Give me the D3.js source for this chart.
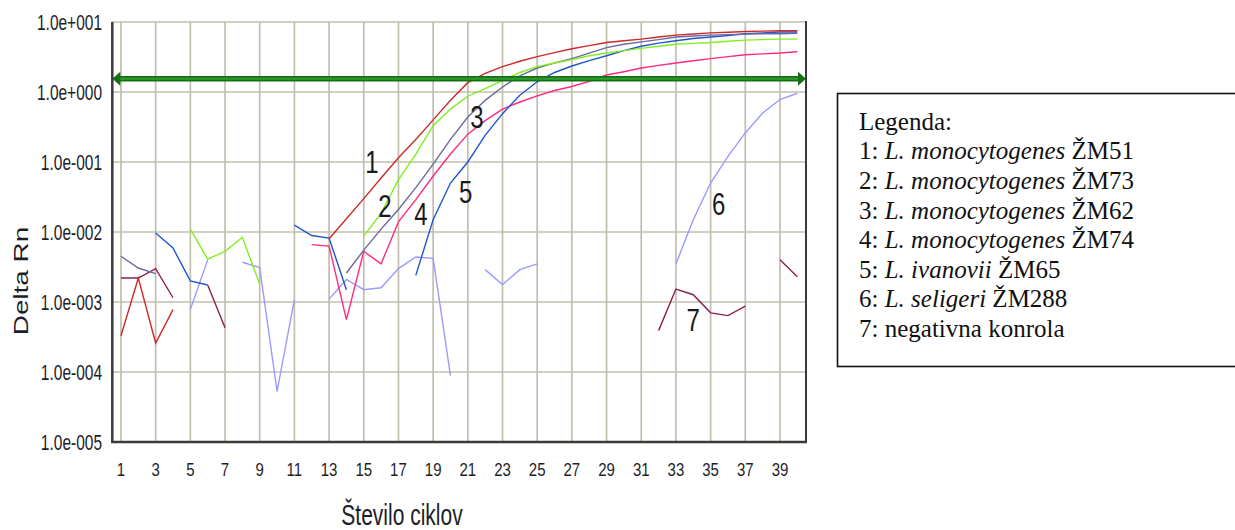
<!DOCTYPE html>
<html>
<head>
<meta charset="utf-8">
<script src="https://cdn.jsdelivr.net/npm/d3@7/dist/d3.min.js"></script>
<style>
  body { margin: 0; background: #fff; }
  svg { display: block; }
</style>
</head>
<body>
<div id="chart"></div>
<script>
// cycle numbers (x categories)
const cycles = [1, 2, 3, 4, 5, 6, 7, 8, 9, 10, 11, 12, 13, 14, 15, 16, 17, 18, 19, 20,
  21, 22, 23, 24, 25, 26, 27, 28, 29, 30, 31, 32, 33, 34, 35, 36, 37, 38, 39, 40];

const xTicks = [1, 3, 5, 7, 9, 11, 13, 15, 17, 19, 21, 23, 25, 27, 29, 31, 33, 35, 37, 39];
const yTicks = [1e-5, 1e-4, 1e-3, 1e-2, 1e-1, 1e0, 1e1];
const yTickLabels = ['1.0e-005', '1.0e-004', '1.0e-003', '1.0e-002', '1.0e-001', '1.0e+000', '1.0e+001'];

const threshold = 1.55;

// Delta Rn per cycle, null = not plotted (<= 0 on log scale)
const zm51 = [3.3e-4, 2.2e-3, 2.6e-4, 7.8e-4, null, null, null, null, null, null,
  null, null, 8.0e-3, 0.0155, 0.030, 0.059, 0.115, 0.21, 0.40, 0.76,
  1.36, 1.85, 2.3, 2.75, 3.2, 3.65, 4.15, 4.6, 5.1, 5.4,
  5.7, 6.1, 6.5, 6.75, 7.0, 7.15, 7.3, 7.4, 7.5, 7.5];

const zm73 = [null, null, null, null, 0.011, 4.1e-3, 5.3e-3, 8.4e-3, 1.8e-3, null,
  null, null, null, null, 8.8e-3, 0.0185, 0.056, 0.13, 0.33, 0.57,
  0.87, 1.12, 1.45, 1.9, 2.3, 2.6, 2.9, 3.3, 3.6, 3.9,
  4.2, 4.5, 4.8, 4.95, 5.1, 5.3, 5.5, 5.6, 5.7, 5.7];

const zm62 = [4.5e-3, 3.06e-3, 2.54e-3, null, null, null, null, null, null, null,
  null, null, null, 2.6e-3, 5.5e-3, 0.011, 0.021, 0.043, 0.093, 0.21,
  0.44, 0.76, 1.18, 1.7, 2.2, 2.6, 3.0, 3.6, 4.3, 4.8,
  5.2, 5.6, 6.1, 6.3, 6.5, 6.6, 6.7, 6.8, 6.8, 6.9];

const zm74 = [null, null, null, null, null, null, null, null, null, null,
  null, 6.6e-3, 6.3e-3, 5.6e-4, 5.3e-3, 3.5e-3, 0.014, 0.029, 0.063, 0.13,
  0.25, 0.39, 0.57, 0.72, 0.88, 1.05, 1.2, 1.42, 1.75, 1.95,
  2.2, 2.4, 2.6, 2.8, 3.0, 3.2, 3.4, 3.5, 3.6, 3.75];

const zm65 = [null, null, 9.7e-3, 5.9e-3, 2.0e-3, 1.75e-3, null, null, null, null,
  0.0125, 8.9e-3, 8.2e-3, 1.5e-3, null, null, null, 2.4e-3, 0.015, 0.05,
  0.10, 0.24, 0.49, 0.9, 1.4, 1.9, 2.35, 2.8, 3.3, 3.9,
  4.5, 5.0, 5.4, 5.8, 6.1, 6.4, 6.8, 7.0, 7.2, 7.2];

const zm288 = [null, null, null, null, 7.8e-4, 4.0e-3, null, 3.7e-3, 3.1e-3, 5.3e-5,
  1.08e-3, null, 1.1e-3, 2.1e-3, 1.5e-3, 1.6e-3, 3.0e-3, 4.4e-3, 4.2e-3, 8.9e-5,
  null, 2.9e-3, 1.77e-3, 2.9e-3, 3.5e-3, null, null, null, null, null,
  null, null, 3.5e-3, 0.015, 0.05, 0.12, 0.26, 0.5, 0.78, 0.96];

const negControl = [2.2e-3, 2.2e-3, 3.0e-3, 1.15e-3, null, 1.75e-3, 4.3e-4, null, null, null,
  null, null, null, null, null, null, null, null, null, null,
  null, null, null, null, null, null, null, null, null, null,
  null, 3.9e-4, 1.53e-3, 1.27e-3, 7.0e-4, 6.4e-4, 8.7e-4, null, 4.0e-3, 2.3e-3];

// curve number labels: [text, cycle, value]
const curveLabels = [
  ['1', 15.47, 0.0697],
  ['2', 16.22, 0.01663],
  ['3', 21.53, 0.306],
  ['4', 18.30, 0.01259],
  ['5', 20.87, 0.02596],
  ['6', 35.46, 0.0175],
  ['7', 33.99, 3.79e-4]
];

const legendTitle = 'Legenda:';
const legendRows = [
  ['1: ', 'L. monocytogenes', ' ŽM51'],
  ['2: ', 'L. monocytogenes', ' ŽM73'],
  ['3: ', 'L. monocytogenes', ' ŽM62'],
  ['4: ', 'L. monocytogenes', ' ŽM74'],
  ['5: ', 'L. ivanovii', ' ŽM65'],
  ['6: ', 'L. seligeri', ' ŽM288'],
  ['7: ', '', 'negativna konrola']
];

const series = [
  { values: zm288, color: '#9a9aff' },
  { values: negControl, color: '#8c1f50' },
  { values: zm74, color: '#ff2a80' },
  { values: zm65, color: '#2256c8' },
  { values: zm62, color: '#6a6a9c' },
  { values: zm73, color: '#80f020' },
  { values: zm51, color: '#cc2a2a' }
];

const width = 1235, height = 530;
const sansFont = "'Liberation Sans', Arial, sans-serif";

const svg = d3.select('#chart').append('svg')
  .attr('width', width)
  .attr('height', height);

const x = d3.scaleLinear().domain([0.5, 40.5]).range([112.3, 806]);
const y = d3.scaleLog().domain([1e-5, 1e1]).range([442, 22]);

let gridGroup = svg.append('g');
let lineGroup = svg.append('g');
let axisGroup = svg.append('g');
let textGroup = svg.append('g');

// grid
gridGroup.selectAll('.vgrid')
  .data(xTicks)
  .enter()
  .append('line')
  .attr('x1', d => x(d)).attr('x2', d => x(d))
  .attr('y1', y(1e1)).attr('y2', y(1e-5))
  .attr('stroke', '#c2beae')
  .attr('stroke-width', 1.7);

gridGroup.selectAll('.hgrid')
  .data(yTicks)
  .enter()
  .append('line')
  .attr('x1', x(0.5)).attr('x2', x(40.5))
  .attr('y1', d => y(d)).attr('y2', d => y(d))
  .attr('stroke', '#c2beae')
  .attr('stroke-width', 1.7);

// curves
const line = d3.line()
  .defined(d => d[1] != null)
  .x(d => x(d[0]))
  .y(d => y(d[1]));

lineGroup.selectAll('path')
  .data(series)
  .enter()
  .append('path')
  .attr('d', s => line(cycles.map((c, i) => [c, s.values[i]])))
  .attr('fill', 'none')
  .attr('stroke', s => s.color)
  .attr('stroke-width', 1.4);

// threshold with arrow heads
let ty = y(threshold);
axisGroup.append('line')
  .attr('x1', x(0.5) + 4).attr('x2', x(40.5) - 4)
  .attr('y1', ty).attr('y2', ty)
  .attr('stroke', '#157015')
  .attr('stroke-width', 5.5);
axisGroup.append('line')
  .attr('x1', x(0.5) + 4).attr('x2', x(40.5) - 4)
  .attr('y1', ty).attr('y2', ty)
  .attr('stroke', '#2e9e2e')
  .attr('stroke-width', 2);
axisGroup.append('path')
  .attr('d', `M${x(0.5)},${ty} L${x(0.5) + 8},${ty - 7} L${x(0.5) + 8},${ty + 7} Z`)
  .attr('fill', '#157015');
axisGroup.append('path')
  .attr('d', `M${x(40.5)},${ty} L${x(40.5) - 8},${ty - 7} L${x(40.5) - 8},${ty + 7} Z`)
  .attr('fill', '#157015');

// frame
axisGroup.append('line')
  .attr('x1', x(0.5)).attr('x2', x(0.5))
  .attr('y1', y(1e1)).attr('y2', y(1e-5) + 1)
  .attr('stroke', '#3a3a3a').attr('stroke-width', 2.5);
axisGroup.append('line')
  .attr('x1', x(0.5) - 1).attr('x2', x(40.5) + 1)
  .attr('y1', y(1e-5)).attr('y2', y(1e-5))
  .attr('stroke', '#3a3a3a').attr('stroke-width', 2.5);
axisGroup.append('line')
  .attr('x1', x(40.5)).attr('x2', x(40.5))
  .attr('y1', y(1e1) - 1).attr('y2', y(1e-5))
  .attr('stroke', '#3a3a3a').attr('stroke-width', 2);

// stretched text helper (the source picture is taller than wide)
function addText(g, px, py, str, size, sx, sy, anchor, rot) {
  return g.append('text')
    .attr('transform', `translate(${px},${py})` + (rot ? ` rotate(${rot})` : '') + ` scale(${sx},${sy})`)
    .attr('font-family', sansFont)
    .attr('font-size', size)
    .attr('text-anchor', anchor)
    .attr('fill', '#1e1e28')
    .text(str);
}

yTicks.forEach((t, i) => {
  addText(textGroup, 102, y(t) + 7.8, yTickLabels[i], 15.5, 1, 1.4, 'end');
});

xTicks.forEach(t => {
  addText(textGroup, x(t), 476, String(t), 15, 1, 1.27, 'middle');
});

addText(textGroup, 402, 525, 'Število ciklov', 21, 1, 1.43, 'middle');
addText(textGroup, 27.5, 281, 'Delta Rn', 20.5, 1.36, 1, 'middle', -90);

curveLabels.forEach(l => {
  addText(textGroup, x(l[1]), y(l[2]), l[0], 24, 1, 1.32, 'middle').attr('fill', '#1a1a1a');
});

// legend
let legend = svg.append('g');
legend.append('rect')
  .attr('x', 837.5).attr('y', 93.5)
  .attr('width', 402).attr('height', 273)
  .attr('fill', '#fff')
  .attr('stroke', '#111')
  .attr('stroke-width', 1.6);

legend.append('text')
  .attr('x', 859).attr('y', 129.5)
  .attr('font-family', "'Liberation Serif', 'Times New Roman', serif")
  .attr('font-size', 25)
  .attr('fill', '#111')
  .text(legendTitle);

legendRows.forEach((r, i) => {
  let t = legend.append('text')
    .attr('x', 859).attr('y', 159.3 + i * 29.6)
    .attr('font-family', "'Liberation Serif', 'Times New Roman', serif")
    .attr('font-size', 25)
    .attr('fill', '#111')
    .attr('xml:space', 'preserve')
    .style('white-space', 'pre');
  t.append('tspan').text(r[0]);
  if (r[1]) t.append('tspan').attr('font-style', 'italic').text(r[1]);
  t.append('tspan').text(r[2]);
});
</script>
</body>
</html>
